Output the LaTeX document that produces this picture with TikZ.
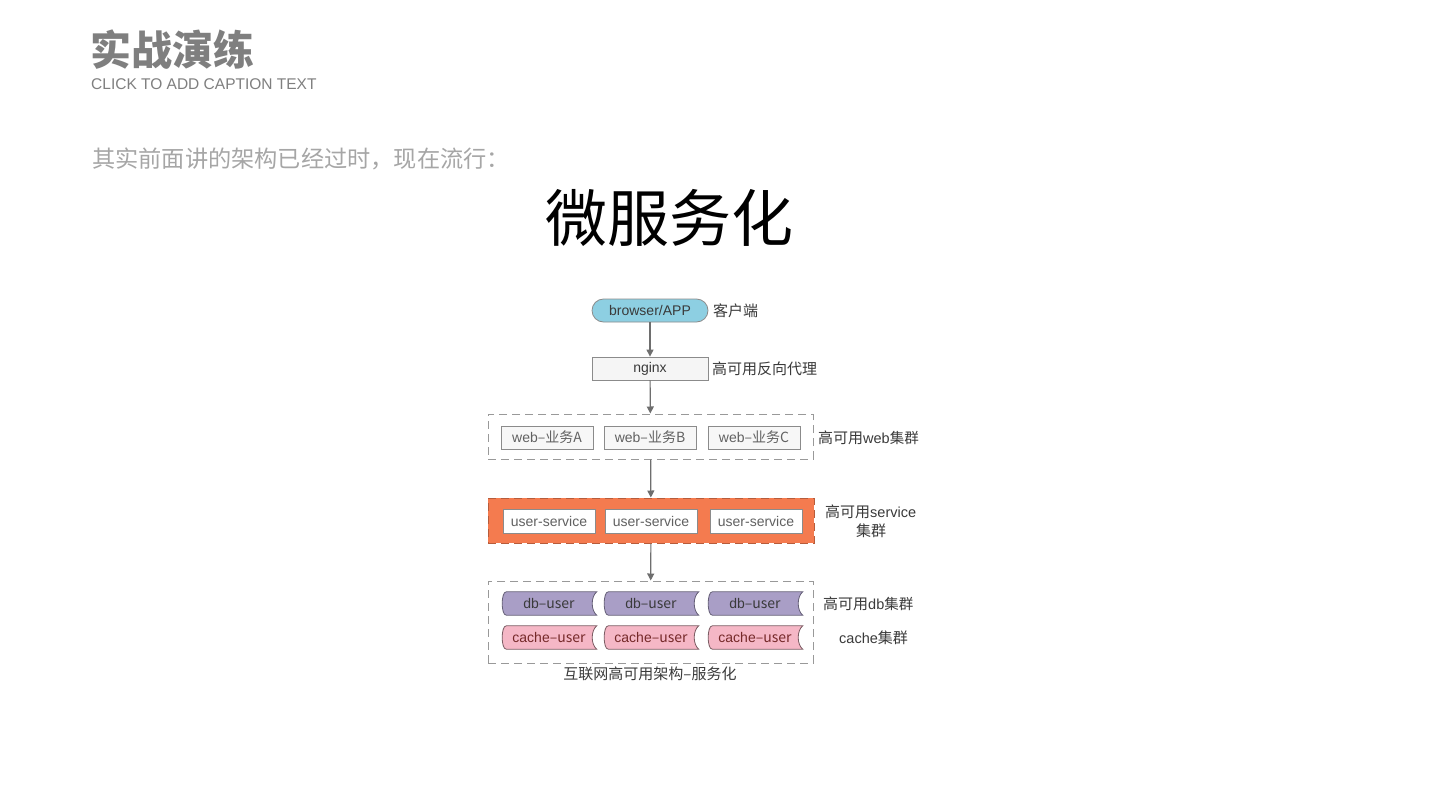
\documentclass[tikz,border=0pt]{standalone}
\usepackage{fontspec}
\setmainfont{Liberation Sans}
\newfontfamily\cjk{Noto Sans CJK SC}
\usetikzlibrary{arrows.meta,calc,backgrounds}
\definecolor{ttl}{HTML}{7F7F7F}
\definecolor{sub}{HTML}{A6A6A6}
\definecolor{ln}{HTML}{6E6E6E}
\definecolor{txt}{HTML}{3A3A3A}
\definecolor{pill}{HTML}{8DCFE2}
\definecolor{orng}{HTML}{F47B4F}
\definecolor{purp}{HTML}{A99EC6}
\definecolor{pink}{HTML}{F5B7C6}
\newcommand\bagshape[2]{%
  \filldraw[#2] ($(#1.north west)+(5pt,0)$) -- (#1.north east)
    .. controls ($(#1.north east)+(-6pt,-5pt)$) and ($(#1.south east)+(-6pt,5pt)$) .. (#1.south east)
    -- ($(#1.south west)+(5pt,0)$)
    .. controls ($(#1.south west)+(-0.5pt,0)$) and ($(#1.north west)+(-0.5pt,0)$) .. ($(#1.north west)+(5pt,0)$) -- cycle;}
\begin{document}
\begin{tikzpicture}[x=1pt,y=-1pt,
  arr/.style={draw=ln,line width=1.2pt,-{Triangle[length=7pt,width=7pt]}},
  box/.style={draw=ln!80,line width=0.8pt,fill=gray!8,minimum width=116pt,minimum height=23pt,inner sep=0pt,text=txt,font=\fontsize{14}{16}\selectfont},
  inbox/.style={draw=ln!80,line width=0.8pt,fill=gray!6,minimum width=92pt,minimum height=23pt,inner sep=0pt,text=txt!80,font=\fontsize{14}{16}\selectfont},
  cluster/.style={draw=ln!70,line width=1pt,dash pattern=on 8pt off 5pt,minimum width=325pt,inner sep=0pt},
  bag/.style={minimum width=95pt,minimum height=23pt,inner sep=0pt,font=\fontsize{14}{16}\selectfont},
  lbl/.style={anchor=west,text=txt,inner sep=0pt,font=\fontsize{14}{16}\selectfont},
  ck/.style={font=\cjk\fontsize{15}{17}\selectfont}]
\useasboundingbox[fill=white] (0,0) rectangle (1440,811);
% header
\node[anchor=west,inner sep=0pt,text=ttl,font=\cjk\bfseries\fontsize{41}{45}\selectfont] (title) at (90,50) {实战演练};
\node[anchor=west,inner sep=0pt,text=ttl,font=\fontsize{15.5}{17}\selectfont] (cap) at (91,84.5) {CLICK TO ADD CAPTION TEXT};
\node[anchor=west,inner sep=0pt,text=sub,font=\cjk\fontsize{23.2}{25}\selectfont] (intro) at (92,159) {其实前面讲的架构已经过时，现在流行：};
\node[inner sep=0pt,text=black,font=\cjk\fontsize{62}{66}\selectfont] (big) at (669,218) {微服务化};
% top
\node[box,fill=pill,rounded corners=11.5pt] (browser) at (650,310.5) {browser/APP};
\node[lbl,ck] (lb) at (713,311) {客户端};
\node[box] (nginx) at (650,368.5) {nginx};
\node[lbl,ck] (ln1) at (712,369) {高可用反向代理};
% web
\node[cluster,minimum height=45pt] (web) at (650.5,436.5) {};
\node[inbox] (wa) at (547,437.5) {web\cjk{–业务}A};
\node[inbox] (wb) at (650,437.5) {web\cjk{–业务}B};
\node[inbox] (wc) at (754,437.5) {web\cjk{–业务}C};
\node[lbl,ck] (lw) at (818,437.5) {高可用\rmfamily\fontsize{14.5}{16}\selectfont web\cjk 集群};
% service
\node[cluster,minimum width=326pt,minimum height=45pt,fill=orng,draw=orng!75!black] (svc) at (651,520.5) {};
\node[inbox,fill=white,minimum height=24pt] (s1) at (549,521) {user-service};
\node[inbox,fill=white,minimum height=24pt] (s2) at (651,521) {user-service};
\node[inbox,fill=white,minimum height=24pt] (s3) at (756,521) {user-service};
\node[lbl,ck] (ls1) at (825,511.5) {高可用\rmfamily\fontsize{14.5}{16}\selectfont service};
\node[text=txt,inner sep=0pt,ck] (ls2) at (871,530.5) {集群};
% data
\node[cluster,minimum height=82pt] (data) at (650.5,622) {};
\node[bag] (d1) at (549,603.5) {};
\node[bag] (d2) at (651,603.5) {};
\node[bag] (d3) at (755,603.5) {};
\node[bag] (c1) at (549,637.5) {};
\node[bag] (c2) at (651,637.5) {};
\node[bag] (c3) at (755,637.5) {};
\foreach \n in {d1,d2,d3}{\bagshape{\n}{fill=purp,draw=purp!60!black,line width=0.8pt}}
\foreach \n in {c1,c2,c3}{\bagshape{\n}{fill=pink,draw=pink!50!black,line width=0.8pt}}
\foreach \n in {d1,d2,d3}{\node[bag,text=txt] at (\n) {db\cjk{–}user};}
\foreach \n in {c1,c2,c3}{\node[bag,text=txt!70!red] at (\n) {cache\cjk{–}user};}
\node[lbl,ck] (ld) at (823,603.5) {高可用\rmfamily\fontsize{14.5}{16}\selectfont db\cjk 集群};
\node[lbl] (lc) at (839,637.5) {\fontsize{14.5}{16}\selectfont cache\cjk\fontsize{15}{17}\selectfont 集群};
\node[text=txt,inner sep=0pt,ck] (capt) at (650,673.5) {互联网高可用架构–服务化};
% arrows
\draw[arr] (browser) -- (nginx);
\draw[arr] (nginx) -- (web);
\draw[arr] (web) -- (svc);
\draw[arr] (svc) -- (data);
\end{tikzpicture}
\end{document}
